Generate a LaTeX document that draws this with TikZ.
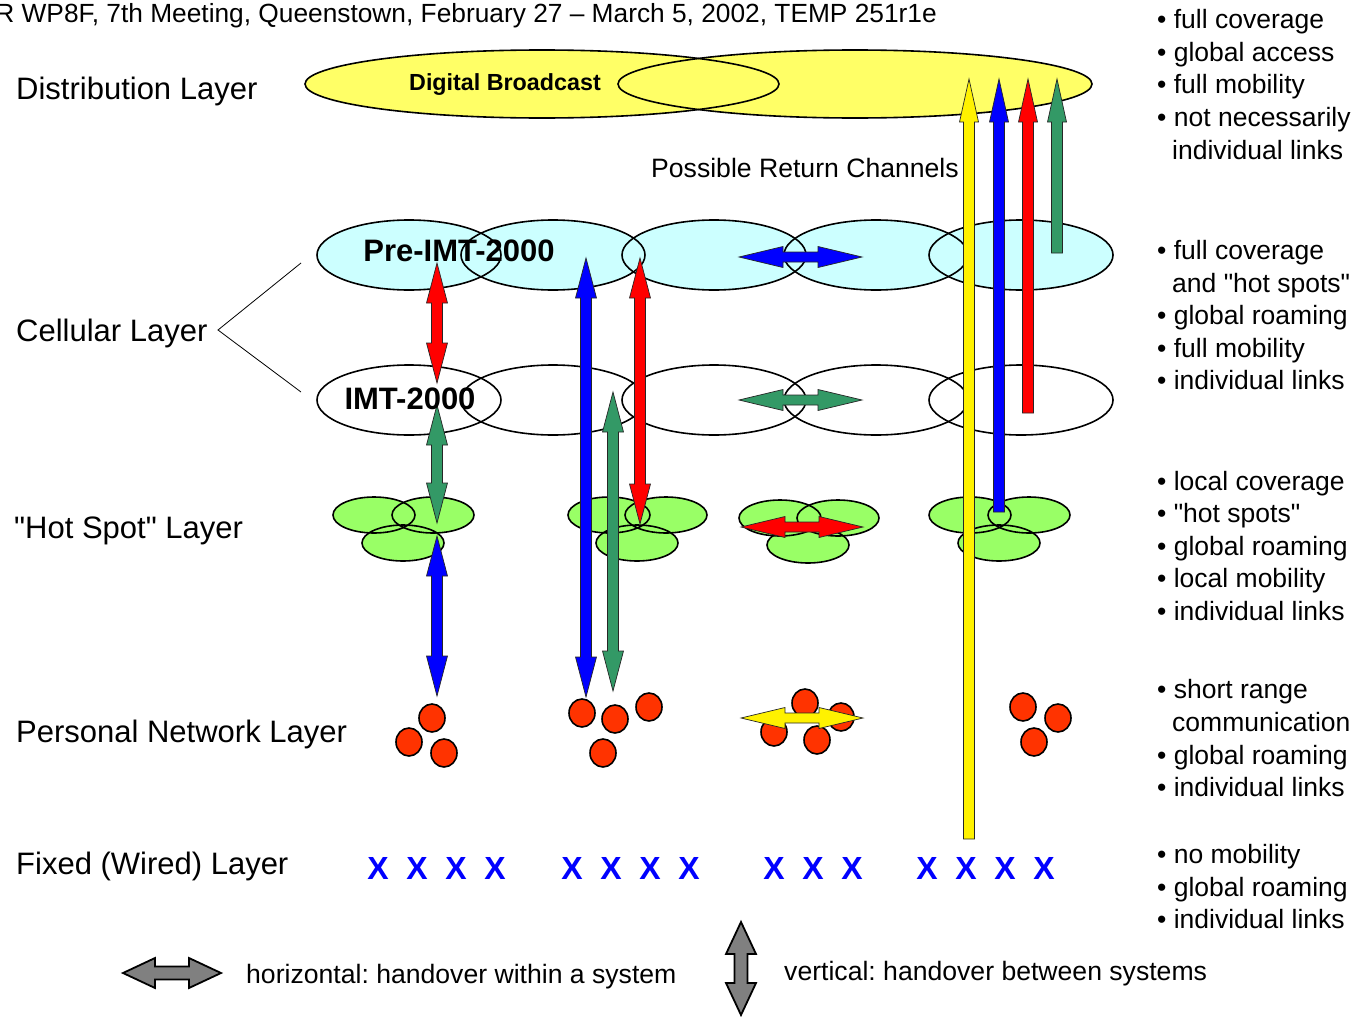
\documentclass[tikz,border=0pt]{standalone}
\usepackage{fontspec}
\setmainfont{Liberation Sans}[Ligatures=TeXOff]
\definecolor{bcyellow}{HTML}{FFFF66}
\definecolor{cellcyan}{HTML}{CCFFFF}
\definecolor{hotgreen}{HTML}{99FF66}
\definecolor{pnred}{HTML}{FF3300}
\definecolor{seagreen}{HTML}{339966}
\definecolor{xblue}{HTML}{0000FF}
\definecolor{leggray}{HTML}{808080}
\newcommand{\VDbl}[7]{%
\draw[#7] (#1,#2) -- ({#1+#4},{#2+#6}) -- ({#1+#5},{#2+#6}) -- ({#1+#5},{#3-#6}) -- ({#1+#4},{#3-#6}) -- (#1,#3) -- ({#1-#4},{#3-#6}) -- ({#1-#5},{#3-#6}) -- ({#1-#5},{#2+#6}) -- ({#1-#4},{#2+#6}) -- cycle;}
\newcommand{\HDbl}[7]{%
\draw[#7] (#1,#3) -- ({#1+#6},{#3-#4}) -- ({#1+#6},{#3-#5}) -- ({#2-#6},{#3-#5}) -- ({#2-#6},{#3-#4}) -- (#2,#3) -- ({#2-#6},{#3+#4}) -- ({#2-#6},{#3+#5}) -- ({#1+#6},{#3+#5}) -- ({#1+#6},{#3+#4}) -- cycle;}
\newcommand{\VUp}[7]{%
\draw[#7] (#1,#2) -- ({#1+#4},{#2+#6}) -- ({#1+#5},{#2+#6}) -- ({#1+#5},#3) -- ({#1-#5},#3) -- ({#1-#5},{#2+#6}) -- ({#1-#4},{#2+#6}) -- cycle;}
\frenchspacing
\begin{document}
\begin{tikzpicture}[x=1pt,y=-1pt,
  shapeline/.style={draw=black, line width=1.6pt},
  barrow/.style={draw=black!85, line width=0.7pt, line join=miter},
  legarrow/.style={draw=black, line width=1.8pt, fill=leggray, line join=miter},
  lbl/.style={anchor=base west, inner sep=0pt, font=\fontsize{31}{37}\selectfont},
  bul/.style={anchor=base west, inner sep=0pt, font=\fontsize{26.5}{31}\selectfont},
  txt/.style={anchor=base west, inner sep=0pt, font=\fontsize{26.6}{31}\selectfont},
  xmark/.style={text=xblue, font=\bfseries\fontsize{32}{38}\selectfont, inner sep=0pt},
  bold/.style={inner sep=0pt, font=\bfseries\fontsize{31}{37}\selectfont}]
\useasboundingbox (0,0) rectangle (1357,1017);

% header
\node[anchor=base east, inner sep=0pt, font=\fontsize{26.3}{31}\selectfont] (hdr) at (937,22) {R WP8F, 7th Meeting, Queenstown, February 27 – March 5, 2002, TEMP 251r1e};

% layer labels
\node[lbl] (ldist) at (16,99) {Distribution Layer};
\node[lbl] (lcell) at (16,341) {Cellular Layer};
\node[lbl] (lhot) at (14,538) {"Hot Spot" Layer};
\node[lbl] (lpers) at (16,742) {Personal Network Layer};
\node[lbl] (lfix) at (16,874) {Fixed (Wired) Layer};
\coordinate (bracetip) at (218,330);
\coordinate (braceup) at (301,263);
\coordinate (bracedn) at (301,392);
\draw[line width=0.8pt] (braceup) -- (bracetip) -- (bracedn);

% distribution ellipses
\fill[bcyellow] (542,84) ellipse [x radius=237pt, y radius=34pt];
\fill[bcyellow] (855,84) ellipse [x radius=237pt, y radius=34pt];
\draw[shapeline] (542,84) ellipse [x radius=237pt, y radius=34pt];
\draw[shapeline] (855,84) ellipse [x radius=237pt, y radius=34pt];
\node[inner sep=0pt, font=\bfseries\fontsize{23.3}{28}\selectfont] (dbc) at (505,85) {Digital Broadcast};

% cellular ellipses
\foreach \cx in {409,553,714,876,1021} {\fill[cellcyan] (\cx,255) ellipse [x radius=92pt, y radius=35pt];}
\foreach \cx in {409,553,714,876,1021} {\draw[shapeline] (\cx,255) ellipse [x radius=92pt, y radius=35pt];}
\foreach \cx in {409,553,714,876,1021} {\fill[white] (\cx,400) ellipse [x radius=92pt, y radius=35pt];}
\foreach \cx in {409,553,714,876,1021} {\draw[shapeline] (\cx,400) ellipse [x radius=92pt, y radius=35pt];}

% hot spot clusters
\foreach \a/\b/\c/\d/\e/\f in {374/433/403/515/515/543, 609/666/637/515/515/543, 780/838/808/518/518/545, 970/1029/999/515/515/543} {
  \fill[hotgreen] (\a,\d) ellipse [x radius=41pt, y radius=18pt];
  \fill[hotgreen] (\b,\e) ellipse [x radius=41pt, y radius=18pt];
  \fill[hotgreen] (\c,\f) ellipse [x radius=41pt, y radius=18pt];
  \draw[shapeline] (\a,\d) ellipse [x radius=41pt, y radius=18pt];
  \draw[shapeline] (\b,\e) ellipse [x radius=41pt, y radius=18pt];
  \draw[shapeline] (\c,\f) ellipse [x radius=41pt, y radius=18pt];
}

% personal network circles
\foreach \px/\py in {432/718, 409/742, 444/753, 582/713, 615/719, 649/707, 603/753, 805/703, 841/717, 774/732, 817/740, 1023/707, 1058/718, 1034/742} {
  \draw[shapeline, fill=pnred] (\px,\py) ellipse [x radius=13pt, y radius=14pt];
}

% fixed layer marks
\foreach \xx [count=\i] in {378,417,456,495,572,611,650,689,774,813,852,927,966,1005,1044} {
  \node[xmark] (x\i) at (\xx,868) {X};
}

% vertical double arrows
\VDbl{437}{263}{383}{10.5}{5.5}{40}{barrow, fill=red}
\VDbl{437}{405}{523}{10.5}{5.5}{40}{barrow, fill=seagreen}
\VDbl{437}{536}{696}{10.5}{5.5}{40}{barrow, fill=blue}
\VDbl{586}{258}{697}{10.5}{5.5}{40}{barrow, fill=blue}
\VDbl{640}{258}{524}{10.5}{5.5}{40}{barrow, fill=red}
\VDbl{613}{392}{691}{10.5}{5.5}{40}{barrow, fill=seagreen}

% horizontal double arrows
\HDbl{739}{862}{257}{10.5}{5}{44}{barrow, fill=blue}
\HDbl{739}{862}{400}{10.5}{5}{44}{barrow, fill=seagreen}
\HDbl{741}{863}{527}{10.5}{5}{44}{barrow, fill=red}
\HDbl{741}{863}{718}{10.5}{5}{44}{barrow, fill=yellow}

% return channel arrows
\VUp{969}{79}{839}{9.5}{5.5}{43}{barrow, fill=yellow}
\VUp{999}{79}{512}{9.5}{5.5}{43}{barrow, fill=blue}
\VUp{1028}{79}{413}{9.5}{5.5}{43}{barrow, fill=red}
\VUp{1057}{79}{253}{9.5}{5.5}{43}{barrow, fill=seagreen}

\node[txt] (ret) at (651,177) {Possible Return Channels};

% cell labels
\node[bold] (pre) at (459,251) {Pre-IMT-2000};
\node[bold] (imt) at (410,399) {IMT-2000};

% right bullets
\node[bul] (b1) at (1157,28) {• full coverage};
\node[bul] (b2) at (1157,61) {• global access};
\node[bul] (b3) at (1157,93) {• full mobility};
\node[bul] (b4) at (1157,126) {• not necessarily};
\node[bul] (b5) at (1172,159) {individual links};
\node[bul] (c1) at (1157,259) {• full coverage};
\node[bul] (c2) at (1172,292) {and "hot spots"};
\node[bul] (c3) at (1157,324) {• global roaming};
\node[bul] (c4) at (1157,357) {• full mobility};
\node[bul] (c5) at (1157,389) {• individual links};
\node[bul] (h1) at (1157,490) {• local coverage};
\node[bul] (h2) at (1157,522) {• "hot spots"};
\node[bul] (h3) at (1157,555) {• global roaming};
\node[bul] (h4) at (1157,587) {• local mobility};
\node[bul] (h5) at (1157,620) {• individual links};
\node[bul] (p1) at (1157,698) {• short range};
\node[bul] (p2) at (1172,731) {communication};
\node[bul] (p3) at (1157,764) {• global roaming};
\node[bul] (p4) at (1157,796) {• individual links};
\node[bul] (f1) at (1157,863) {• no mobility};
\node[bul] (f2) at (1157,896) {• global roaming};
\node[bul] (f3) at (1157,928) {• individual links};

% legend
\HDbl{123}{221}{973}{15}{6.5}{32}{legarrow}
\node[txt] (lh) at (246,983) {horizontal: handover within a system};
\VDbl{741}{922}{1015}{15}{6.5}{32}{legarrow}
\node[txt] (lv) at (784,980) {vertical: handover between systems};
\end{tikzpicture}
\end{document}
